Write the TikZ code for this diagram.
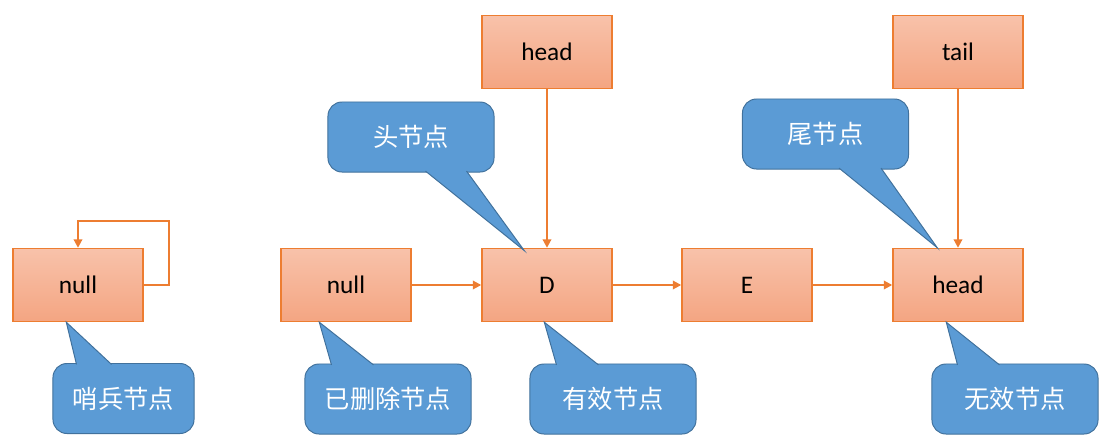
\documentclass[tikz,border=0pt]{standalone}
\usepackage{fontspec}
\setmainfont{Carlito}
\newfontfamily\cjk{Noto Sans CJK SC}
\usetikzlibrary{arrows.meta}
\definecolor{cEdge}{RGB}{237,125,49}
\definecolor{cTop}{RGB}{248,194,170}
\definecolor{cBottom}{RGB}{244,165,130}
\definecolor{cNote}{RGB}{91,155,213}
\definecolor{cNoteEdge}{RGB}{65,113,156}
\tikzset{
	listnode/.style={rectangle, draw=cEdge, line width=1pt, top color=cTop, bottom color=cBottom, minimum width=3.25cm, minimum height=1.825cm, font=\fontsize{18}{20}\selectfont},
	note/.style    ={rectangle, rounded corners=0.35cm, draw=cNoteEdge, fill=cNote, line width=0.7pt, minimum width=4.15cm, minimum height=1.75cm, text=white, font=\cjk\fontsize{18}{20}\selectfont},
	pointer/.style ={draw=cNoteEdge, fill=cNote, line width=0.7pt},
	link/.style    ={-{Triangle[length=6pt, width=6pt]}, draw=cEdge, line width=1.4pt},
}
\begin{document}
\begin{tikzpicture}[x=0.025cm, y=-0.025cm]
	\useasboundingbox (0,0) rectangle (1100,436);
	% list nodes
	\node[listnode] (sentinel) at (78,285) {null};
	\node[listnode] (removed) at (346,285) {null};
	\node[listnode] (d) at (547,285) {D};
	\node[listnode] (e) at (747,285) {E};
	\node[listnode] (last) at (958,285) {head};
	\node[listnode] (headptr) at (547,52) {head};
	\node[listnode] (tailptr) at (958,52) {tail};
	% links
	\draw[link] (sentinel.east) -| (169,221) -| (sentinel.north);
	\draw[link] (removed) -- (d);
	\draw[link] (d) -- (e);
	\draw[link] (e) -- (last);
	\draw[link] (headptr) -- (d);
	\draw[link] (tailptr) -- (last);
	% callouts
	\node[note, minimum width=3.525cm] (nsentinel) at (123.5,398.5) {哨兵节点};
	\node[note] (nremoved) at (388,399) {已删除节点};
	\node[note] (nvalid) at (613,399) {有效节点};
	\node[note] (ninvalid) at (1015,399) {无效节点};
	\node[note] (nhead) at (411,137) {头节点};
	\node[note] (ntail) at (825.5,134) {尾节点};
	\filldraw[pointer] ([xshift=0.6cm, yshift=-1pt]nsentinel.north west) -- ([xshift=1.35cm]sentinel.south west) -- ([xshift=1.475cm, yshift=-1pt]nsentinel.north west);
	\filldraw[pointer] ([xshift=0.675cm, yshift=-1pt]nremoved.north west) -- ([xshift=0.975cm]removed.south west) -- ([xshift=1.725cm, yshift=-1pt]nremoved.north west);
	\filldraw[pointer] ([xshift=0.675cm, yshift=-1pt]nvalid.north west) -- ([xshift=1.575cm]d.south west) -- ([xshift=1.725cm, yshift=-1pt]nvalid.north west);
	\filldraw[pointer] ([xshift=0.65cm, yshift=-1pt]ninvalid.north west) -- ([xshift=1.35cm]last.south west) -- ([xshift=1.7cm, yshift=-1pt]ninvalid.north west);
	\filldraw[pointer] ([xshift=2.45cm, yshift=1pt]nhead.south west) -- ([xshift=1.075cm, yshift=-2pt]d.north west) -- ([xshift=3.475cm, yshift=1pt]nhead.south west);
	\filldraw[pointer] ([xshift=2.425cm, yshift=1pt]ntail.south west) -- ([xshift=1.125cm]last.north west) -- ([xshift=3.475cm, yshift=1pt]ntail.south west);
\end{tikzpicture}
\end{document}
